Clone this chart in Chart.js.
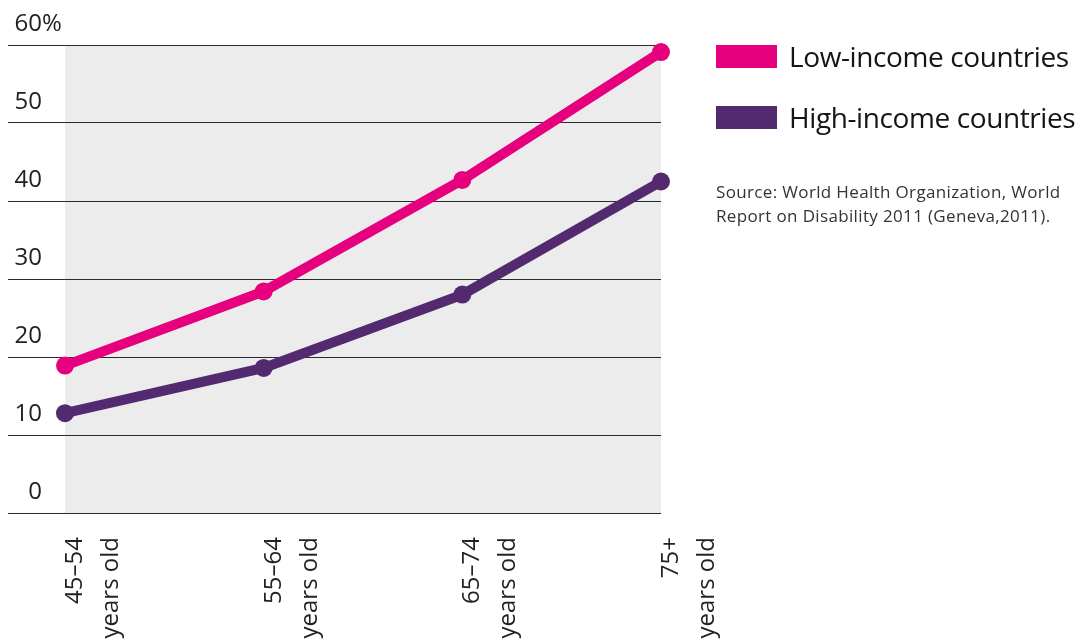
<!DOCTYPE html>
<html>
<head>
<meta charset="utf-8">
<script src="https://cdn.jsdelivr.net/npm/chart.js@4/dist/chart.umd.min.js"></script>
<style>
  html, body { margin: 0; padding: 0; background: #ffffff; }
  #wrap { position: relative; width: 1077px; height: 642px; overflow: hidden; font-family: "Open Sans", "Noto Sans", sans-serif; }
  #chart { position: absolute; left: 0; top: 0; }
  .legend-item { position: absolute; left: 716px; height: 24px; display: flex; align-items: center; white-space: nowrap; }
  .legend-box { width: 61px; height: 23px; margin-right: 12px; flex: none; }
  .legend-text { font-size: 28px; color: #151515; letter-spacing: -0.4px; }
  #source { position: absolute; left: 716px; top: 180px; font-size: 17px; line-height: 24px; letter-spacing: 0.35px; color: #333; white-space: nowrap; }
</style>
</head>
<body>
<div id="wrap">
  <canvas id="chart" width="1077" height="642"></canvas>
  <div id="legend"></div>
  <div id="source">Source: World Health Organization, World<br>Report on Disability 2011 (Geneva,2011).</div>
</div>
<script>
// Age groups along the horizontal axis
const ageGroups = [
  ['45–54', 'years old'],
  ['55–64', 'years old'],
  ['65–74', 'years old'],
  ['75+', 'years old']
];

// Prevalence of disability, percent
const lowIncome = [18.9, 28.4, 42.7, 59.1];
const highIncome = [12.8, 18.6, 28.0, 42.5];

// Vertical axis ticks
const yTicks = [0, 10, 20, 30, 40, 50, 60];

const seriesNames = ['Low-income countries', 'High-income countries'];
const seriesColors = ['#e6007e', '#53296f'];

const TICK_FONT = { family: '"Open Sans", "Noto Sans", sans-serif', size: 24 };
const Y_LABEL_SHIFT = -21;

// Shaded plot background
const plotShade = {
  id: 'plotShade',
  beforeDraw(chart) {
    const { ctx, chartArea: a } = chart;
    ctx.save();
    ctx.fillStyle = '#ececec';
    ctx.fillRect(a.left, a.top, a.right - a.left, a.bottom - a.top);
    ctx.restore();
  }
};

// Percent sign after the top tick value
const percentSuffix = {
  id: 'percentSuffix',
  afterDraw(chart) {
    const y = chart.scales.y;
    const top = yTicks[yTicks.length - 1];
    const { ctx } = chart;
    ctx.save();
    ctx.font = `${TICK_FONT.size}px ${TICK_FONT.family}`;
    ctx.fillStyle = '#222';
    ctx.textAlign = 'left';
    ctx.textBaseline = 'middle';
    ctx.fillText('%', y.right - 23, y.getPixelForValue(top) + Y_LABEL_SHIFT);
    ctx.restore();
  }
};

const datasets = [lowIncome, highIncome].map((vals, i) => ({
  label: seriesNames[i],
  data: vals,
  borderColor: seriesColors[i],
  backgroundColor: seriesColors[i],
  borderWidth: 10,
  pointRadius: 9,
  pointHoverRadius: 9,
  pointBorderWidth: 0,
  tension: 0,
  clip: false
}));

new Chart(document.getElementById('chart'), {
  type: 'line',
  data: { labels: ageGroups, datasets },
  options: {
    responsive: false,
    animation: false,
    events: [],
    layout: { padding: { top: 45, left: 8, right: 416, bottom: 0 } },
    plugins: { legend: { display: false }, tooltip: { enabled: false } },
    scales: {
      x: {
        offset: false,
        grid: { display: false, drawTicks: false },
        border: { display: false },
        ticks: {
          autoSkip: false,
          minRotation: 90,
          maxRotation: 90,
          padding: 24,
          labelOffset: 10,
          color: '#222',
          font: { ...TICK_FONT, lineHeight: 1.5 }
        },
        afterFit(scale) { scale.height = 129; }
      },
      y: {
        min: yTicks[0],
        max: yTicks[yTicks.length - 1],
        afterBuildTicks(scale) { scale.ticks = yTicks.map(v => ({ value: v })); },
        border: { display: false },
        grid: {
          color: '#2a2a2a',
          lineWidth: 1,
          drawTicks: true,
          tickLength: 57,
          tickColor: '#2a2a2a',
          tickWidth: 1
        },
        ticks: {
          crossAlign: 'near',
          padding: -34,
          labelOffset: Y_LABEL_SHIFT,
          color: '#222',
          font: TICK_FONT,
          callback: v => String(v)
        },
        afterFit(scale) { scale.width = 57; }
      }
    }
  },
  plugins: [plotShade, percentSuffix]
});

// Legend built from the series
const legend = document.getElementById('legend');
const legendTops = [44, 105];
seriesNames.forEach((name, i) => {
  const item = document.createElement('div');
  item.className = 'legend-item';
  item.style.top = legendTops[i] + 'px';
  const box = document.createElement('span');
  box.className = 'legend-box';
  box.style.background = seriesColors[i];
  const txt = document.createElement('span');
  txt.className = 'legend-text';
  txt.textContent = name;
  item.appendChild(box);
  item.appendChild(txt);
  legend.appendChild(item);
});
</script>
</body>
</html>
